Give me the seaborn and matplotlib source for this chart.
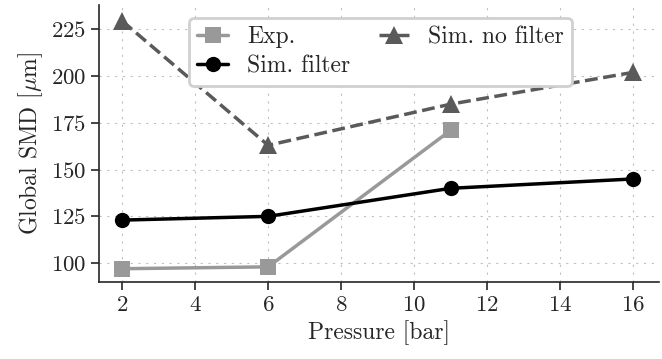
import numpy as np
import pandas as pd
import matplotlib
matplotlib.use("Agg")
import matplotlib.pyplot as plt
import seaborn as sns

pressure_exp = [2, 6, 11]
smd_exp = [97, 98, 171]
pressure_sim = [2, 6, 11, 16]
smd_filter = [123, 125, 140, 145]
smd_nofilter = [229.5, 163, 185, 202]

sns.set_style("ticks")
plt.rcParams["font.family"] = ["cmr10", "DejaVu Serif"]
plt.rcParams["mathtext.fontset"] = "cm"
plt.rcParams["axes.formatter.use_mathtext"] = True
plt.rcParams["font.size"] = 17

fig, ax = plt.subplots(figsize=(6.62, 3.59), dpi=100)

sns.lineplot(x=pressure_exp, y=smd_exp, ax=ax, color="#999999", marker="s",
             markersize=12, markeredgewidth=0, linewidth=2.5, label="Exp.")
sns.lineplot(x=pressure_sim, y=smd_filter, ax=ax, color="black", marker="o",
             markersize=11, markeredgewidth=0, linewidth=2.5, label="Sim. filter")
sns.lineplot(x=pressure_sim, y=smd_nofilter, ax=ax, color="#5a5a5a", marker="^",
             markersize=13.5, markeredgewidth=0, linewidth=2.5, linestyle="--",
             label="Sim. no filter")

ax.set(xlim=(1.375, 16.7), ylim=(90, 238),
       xlabel="Pressure [bar]", ylabel=r"Global SMD [$\mu$m]")
ax.set_xticks([2, 4, 6, 8, 10, 12, 14, 16])
ax.set_yticks([100, 125, 150, 175, 200, 225])
ax.grid(True, ls=(0, (2, 5)), color="#c0c0c0", lw=0.8)
ax.tick_params(direction="out", length=6, width=1.2, labelsize=16.5)
sns.despine(ax=ax)
for s in ["left", "bottom"]:
    ax.spines[s].set_linewidth(1.2)

leg = ax.legend(ncol=2, loc="upper center", bbox_to_anchor=(0.503, 0.996),
                frameon=True, edgecolor="#d0d0d0", framealpha=1, fontsize=17,
                columnspacing=1.2, handlelength=1.3, borderpad=0.35,
                labelspacing=0.3, handletextpad=0.8)
leg.get_frame().set_linewidth(2)

fig.subplots_adjust(left=0.15, right=0.995, bottom=0.215, top=0.986)
fig.savefig("out.png", dpi=100)
